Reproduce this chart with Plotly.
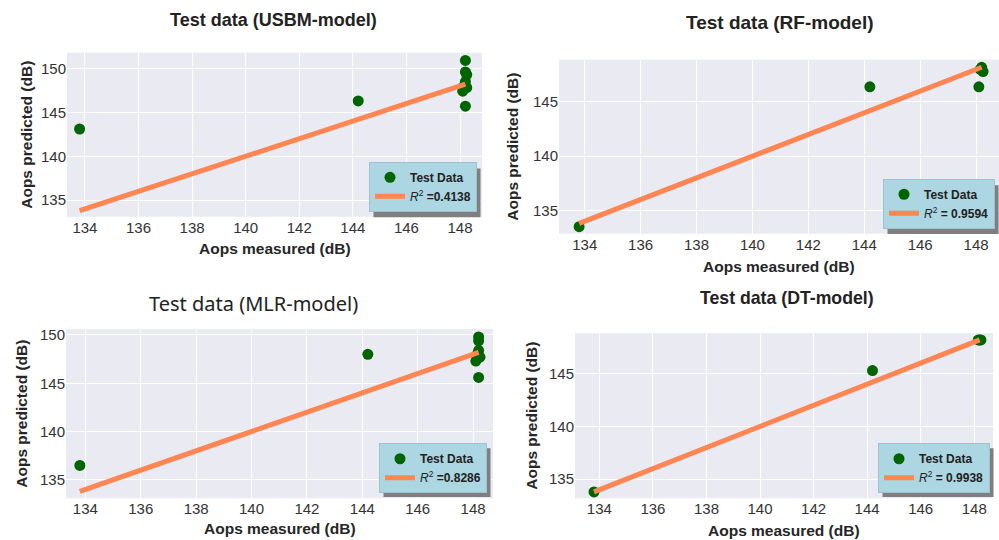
import plotly.graph_objects as go

W, H = 999, 540

titles = ["Test data (USBM-model)", "Test data (RF-model)", "Test data (MLR-model)", "Test data (DT-model)"]
r2_labels = ["=0.4138", "= 0.9594", "=0.8286", "= 0.9938"]

# measured vs predicted (test data)
usbm_meas = [133.8, 144.2, 148.2, 148.2, 148.25, 148.2, 148.15, 148.25, 148.1, 148.2]
usbm_pred = [143.1, 146.3, 150.9, 149.6, 149.3, 148.5, 148.0, 147.8, 147.4, 145.7]
rf_meas = [133.8, 144.2, 148.1, 148.2, 148.25, 148.15]
rf_pred = [133.5, 146.4, 146.4, 148.2, 147.8, 148.0]
mlr_meas = [133.8, 144.2, 148.2, 148.2, 148.2, 148.15, 148.25, 148.1, 148.2]
mlr_pred = [136.5, 148.0, 149.8, 149.4, 148.4, 148.0, 147.7, 147.3, 145.6]
dt_meas = [133.8, 144.2, 148.2, 148.15, 148.25]
dt_pred = [133.8, 145.3, 148.2, 148.2, 148.2]

# perfect-fit reference line
line_x = [133.8, 148.2]
line_y = [133.8, 148.2]

x_ranges = [[133.33, 148.82], [133.08, 148.82], [133.3, 148.72], [133.09, 148.7]]
y_ranges = [[133.11, 151.78], [132.85, 148.9], [133.1, 150.6], [133.2, 148.84]]

meas = [usbm_meas, rf_meas, mlr_meas, dt_meas]
pred = [usbm_pred, rf_pred, mlr_pred, dt_pred]

# plot areas in pixels: left, right, top, bottom
boxes = [(67, 482, 50, 215), (559, 999, 57, 232), (66, 493, 328, 498), (575, 993, 332, 498)]
legend_rb = [(477, 210), (995, 227), (487, 493), (990, 493)]
title_pos = [(273, 17), (780, 20), (253, 302), (787, 297)]
title_size = [18, 19, 20, 17.7]
xtitle_y = [247, 265, 528, 530]
ytitle_x = [27, 513, 22, 532]

FONT = "Liberation Sans, Arial, sans-serif"

fig = go.Figure()
layout = dict(
    width=W, height=H, margin=dict(l=0, r=0, t=0, b=0),
    paper_bgcolor="white", plot_bgcolor="#EAEAF2", showlegend=True,
    font=dict(family=FONT, color="#262626", size=14),
)
annotations = []

for i in range(4):
    sfx = "" if i == 0 else str(i + 1)
    xa, ya = "x" + sfx, "y" + sfx
    lg = "legend" + sfx
    fig.add_trace(go.Scatter(
        x=meas[i], y=pred[i], mode="markers", name="<b>Test Data</b>",
        marker=dict(color="#006400", size=11), xaxis=xa, yaxis=ya, legend=lg,
        legendrank=1, cliponaxis=False,
    ))
    fig.add_trace(go.Scatter(
        x=line_x, y=line_y, mode="lines",
        name="<i>R</i><sup>2</sup> <b>" + r2_labels[i] + "</b>",
        line=dict(color="#FF8552", width=5), xaxis=xa, yaxis=ya, legend=lg,
        legendrank=2,
    ))
    l, r, t, b = boxes[i]
    common = dict(showgrid=True, gridcolor="white", gridwidth=1.2, zeroline=False,
                  showline=False, ticks="", tickfont=dict(family=FONT, size=15, color="#333333"))
    layout["xaxis" + sfx] = dict(domain=[l / W, r / W], range=x_ranges[i], dtick=2, tick0=134,
                                  anchor=ya, **common)
    layout["yaxis" + sfx] = dict(domain=[1 - b / H, 1 - t / H], range=y_ranges[i], dtick=5, tick0=135,
                                  anchor=xa, ticklen=4, **common)
    lr, lb = legend_rb[i]
    layout[lg] = dict(x=lr / W, y=1 - lb / H, xanchor="right", yanchor="bottom",
                      bgcolor="#ABD6E2", bordercolor="#9CC3CF", borderwidth=1,
                      font=dict(family=FONT, size=12, color="#222222"),
                      tracegroupgap=0, itemwidth=30)
    tx, ty = title_pos[i]
    if i == 2:
        tfont = dict(family="Noto Sans, Open Sans, sans-serif", size=title_size[i], color="#222222")
        ttext = titles[i]
    else:
        tfont = dict(family=FONT, size=title_size[i], color="#222222")
        ttext = "<b>" + titles[i] + "</b>"
    annotations.append(dict(text=ttext, x=tx / W, y=1 - ty / H, xref="paper", yref="paper",
                            showarrow=False, xanchor="center", yanchor="middle", font=tfont))
    annotations.append(dict(text="<b>Aops measured (dB)</b>", x=((l + r) / 2) / W,
                            y=1 - xtitle_y[i] / H, xref="paper", yref="paper", showarrow=False,
                            xanchor="center", yanchor="middle",
                            font=dict(family=FONT, size=15.5, color="#262626")))
    annotations.append(dict(text="<b>Aops predicted (dB)</b>", x=ytitle_x[i] / W,
                            y=1 - ((t + b) / 2) / H, xref="paper", yref="paper", showarrow=False,
                            xanchor="center", yanchor="middle", textangle=-90,
                            font=dict(family=FONT, size=15.5, color="#262626")))

layout["annotations"] = annotations
fig.update_layout(**layout)

# drop shadow behind each legend box, sized from the rendered legend
post = """
document.body.style.margin='0';
document.body.style.overflow='hidden';
var gd = document.getElementsByClassName('plotly-graph-div')[0];
(function(){
  var bgs = gd.querySelectorAll('.infolayer > g[class^="legend"] > rect.bg');
  var pr = gd.getBoundingClientRect();
  var shapes = [];
  bgs.forEach(function(r){
    var bb = r.getBoundingClientRect();
    shapes.push({type:'rect', xref:'paper', yref:'paper',
                 x0:(bb.left - pr.left + 4) / %d, x1:(bb.right - pr.left + 4) / %d,
                 y0:1 - (bb.bottom - pr.top + 4) / %d, y1:1 - (bb.top - pr.top + 4) / %d,
                 fillcolor:'#7F7F7F', line:{width:0}, layer:'above'});
  });
  Plotly.relayout(gd, {shapes: shapes});
})();
""" % (W, W, H, H)

fig.write_html("out.html", post_script=post, config={"displayModeBar": False})
